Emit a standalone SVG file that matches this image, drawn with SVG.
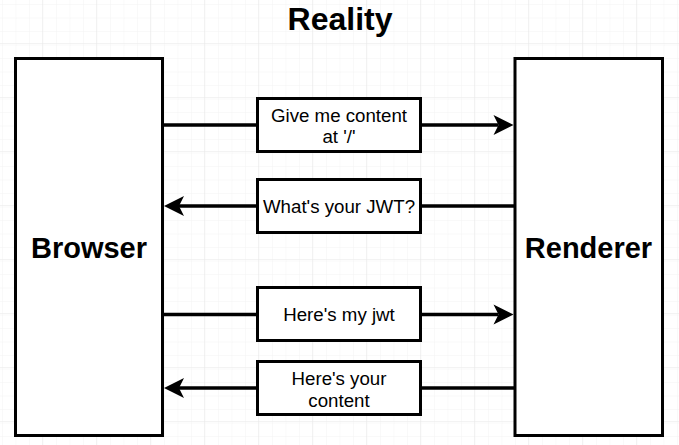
<svg xmlns="http://www.w3.org/2000/svg" width="679" height="445" viewBox="0 0 679 445">
  <defs>
    <pattern id="gridMinor" x="1.5" y="2.5" width="13.5" height="13.5" patternUnits="userSpaceOnUse">
      <path d="M13.5 0 V13.5 M0 13.5 H13.5" fill="none" stroke="#f3f3f3" stroke-width="1"/>
    </pattern>
    <pattern id="gridMajor" x="42" y="43" width="54" height="54" patternUnits="userSpaceOnUse">
      <rect width="54" height="54" fill="url(#gridMinor)"/>
      <path d="M0 0 V54 M0 0 H54" fill="none" stroke="#e8e8e8" stroke-width="1"/>
    </pattern>
    <marker id="arrow" markerUnits="userSpaceOnUse" markerWidth="20" markerHeight="20" refX="5" refY="10" orient="auto" overflow="visible">
      <path d="M0 0 L20 10 L0 20 L5 10 Z" fill="#000"/>
    </marker>
  </defs>
  <style>
    .node { fill: #fff; stroke: #000; stroke-width: 3; }
    .edge { fill: none; stroke: #000; stroke-width: 3.6; marker-end: url(#arrow); }
    .title { font-family: "Liberation Sans", Arial, sans-serif; font-weight: bold; font-size: 32px; text-anchor: middle; fill: #000; }
    .big { font-family: "Liberation Sans", Arial, sans-serif; font-weight: bold; font-size: 29px; text-anchor: middle; fill: #000; }
    .lbl { font-family: "Liberation Sans", Arial, sans-serif; font-size: 18.7px; text-anchor: middle; fill: #000; }
  </style>

  <!-- background grid -->
  <rect width="679" height="445" fill="#fff"/>
  <rect width="679" height="445" fill="url(#gridMajor)"/>

  <text class="title" x="340" y="30">Reality</text>

  <!-- connectors: each runs behind its message box -->
  <g id="connectors">
    <path class="edge" d="M163 125 H498.5"/>
    <path class="edge" d="M514 206 H179"/>
    <path class="edge" d="M163 314.5 H498.5"/>
    <path class="edge" d="M514 388 H179"/>
  </g>

  <g id="browser">
    <rect class="node" x="15.5" y="58.5" width="147" height="377"/>
    <text class="big" x="89" y="258">Browser</text>
  </g>

  <g id="renderer">
    <rect class="node" x="515" y="58.5" width="147.5" height="377"/>
    <text class="big" x="588.5" y="258">Renderer</text>
  </g>

  <g id="msg-content-request">
    <rect class="node" x="257.5" y="98.5" width="163" height="53"/>
    <text class="lbl" x="339" y="122">Give me content</text>
    <text class="lbl" x="339" y="143">at '/'</text>
  </g>

  <g id="msg-jwt-request">
    <rect class="node" x="257.5" y="179.5" width="163" height="53"/>
    <text class="lbl" x="339" y="213">What's your JWT?</text>
  </g>

  <g id="msg-jwt">
    <rect class="node" x="257.5" y="287.5" width="163" height="53"/>
    <text class="lbl" x="339" y="321">Here's my jwt</text>
  </g>

  <g id="msg-content">
    <rect class="node" x="257.5" y="361.5" width="163" height="53"/>
    <text class="lbl" x="339" y="385">Here's your</text>
    <text class="lbl" x="339" y="407">content</text>
  </g>
</svg>
